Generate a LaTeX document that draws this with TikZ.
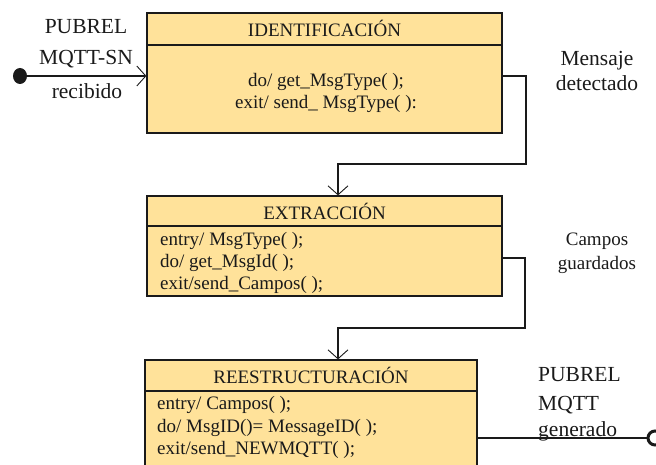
\documentclass[tikz,border=0pt]{standalone}
\usepackage{fontspec}
\setmainfont{LiberationSerif}[Extension=.ttf, UprightFont=*-Regular, BoldFont=*-Bold, ItalicFont=*-Italic]
\usetikzlibrary{arrows.meta,shapes.geometric}
\definecolor{boxfill}{HTML}{FFE29A}
\definecolor{ink}{HTML}{1A1A1A}
\tikzset{
  statebox/.style={draw=ink, fill=boxfill, line width=1.2pt, inner sep=0pt},
  sep/.style={draw=ink, line width=1.2pt},
  conn/.style={draw=ink, line width=1.1pt, -{Straight Barb[length=9pt,width=20pt,line width=0.9pt]}},
  plain/.style={draw=ink, line width=1.1pt},
  body/.style={font=\fontsize{19}{22}\selectfont, text=ink, inner sep=0pt},
  lbl/.style={font=\fontsize{21.5}{25}\selectfont, text=ink, inner sep=0pt},
}
\begin{document}
\begin{tikzpicture}[x=1pt,y=-1pt]
\useasboundingbox (0,0) rectangle (656,465);
\clip (0,0) rectangle (656,465);
% boxes
\node[statebox, minimum width=355pt, minimum height=120pt] (id) at (324.5,73) {};
\draw[sep] (147,45) -- (502,45);
\node[body] (idh) at (324.5,28) {IDENTIFICACIÓN};
\node[body] (id1) at (326,82) {do/ get\_MsgType( );};
\node[body] (id2) at (326,104) {exit/ send\_ MsgType( ):};

\node[statebox, minimum width=355pt, minimum height=100pt] (ex) at (324.5,246) {};
\draw[sep] (147,226) -- (502,226);
\node[body] (exh) at (324.5,211) {EXTRACCIÓN};
\node[body, anchor=west] (ex1) at (160,241) {entry/ MsgType( );};
\node[body, anchor=west] (ex2) at (160,263) {do/ get\_MsgId( );};
\node[body, anchor=west] (ex3) at (160,285) {exit/send\_Campos( );};

\node[statebox, minimum width=332pt, minimum height=125pt] (re) at (311,422.5) {};
\draw[sep] (145,391) -- (477,391);
\node[body] (reh) at (311,375) {REESTRUCTURACIÓN};
\node[body, anchor=west] (re1) at (157,405) {entry/ Campos( );};
\node[body, anchor=west] (re2) at (157,428) {do/ MsgID()= MessageID( );};
\node[body, anchor=west] (re3) at (157,450) {exit/send\_NEWMQTT( );};

% initial and final states
\node[ellipse, fill=ink, minimum width=14pt, minimum height=16pt, inner sep=0pt] (init) at (20,76) {};
\node[circle, draw=ink, fill=white, line width=3pt, minimum size=14pt, inner sep=0pt] (fin) at (655,438) {};

% connectors
\draw[conn] (init) -- (init -| id.west);
\coordinate (k1) at (526,164);
\draw[conn] (id.east |- init) -| (k1) -| ([xshift=13.5pt]ex.north);
\coordinate (k2) at (525,328);
\coordinate (s2) at (502,258);
\draw[conn] (s2) -| (k2) -| ([xshift=27pt]re.north);
\coordinate (s3) at (477,438);
\draw[plain] (s3) -- (fin);

% labels
\node[lbl] (l1) at (86,27) {PUBREL};
\node[lbl] (l2) at (86,59) {MQTT-SN};
\node[lbl] (l3) at (87,91) {recibido};
\node[lbl, align=center] (l4) at (597,70.5) {Mensaje\\detectado};
\node[body, align=center, font=\fontsize{19}{24}\selectfont] (l5) at (597,253) {Campos\\guardados};
\node[lbl, anchor=west] (l6) at (538,375) {PUBREL};
\node[lbl, anchor=west] (l7) at (538,405) {MQTT};
\node[lbl, anchor=west] (l8) at (538,431) {generado};
\end{tikzpicture}
\end{document}
